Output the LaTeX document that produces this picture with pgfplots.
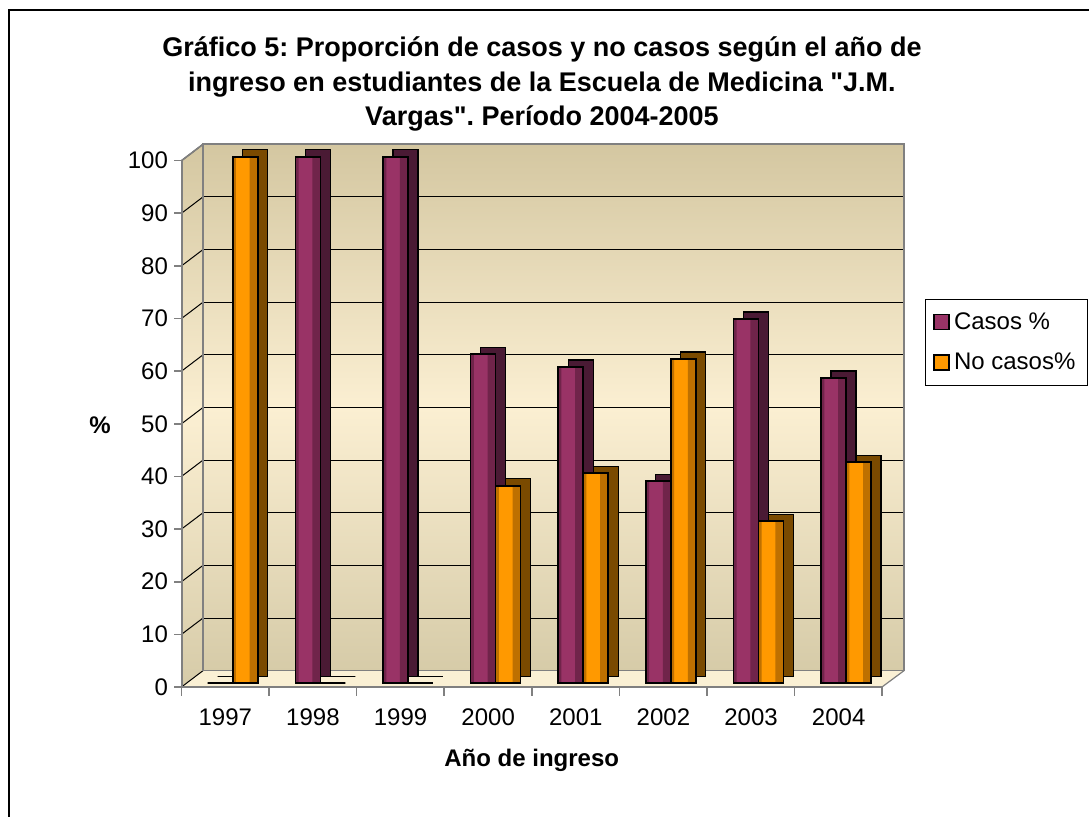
\documentclass[border=0pt]{standalone}
\usepackage{pgfplots}
\usepackage{pgfplotstable}
\pgfplotsset{compat=1.18}
\usepackage{fontspec}
\setmainfont{Liberation Sans}
\definecolor{casos}{RGB}{153,51,102}
\definecolor{casosD}{RGB}{112,36,74}
\definecolor{casosS}{RGB}{74,26,52}
\definecolor{nocasos}{RGB}{255,153,0}
\definecolor{nocasosD}{RGB}{190,112,0}
\definecolor{nocasosS}{RGB}{122,74,0}
\definecolor{wallTop}{RGB}{212,199,161}
\definecolor{wallMid}{RGB}{251,239,210}
\definecolor{wallBot}{RGB}{214,203,168}
\definecolor{floorC}{RGB}{250,240,212}
\definecolor{edge}{RGB}{128,128,128}

\pgfplotstableread{
x casos nocasos
0 0 100
1 100 0
2 100 0
3 62.5 37.5
4 60.1 39.9
5 38.4 61.6
6 69.2 30.8
7 58.0 42.0
}\datatable

\begin{document}
\frenchspacing
\begin{tikzpicture}[x=0.5pt,y=0.5pt]
\useasboundingbox (0,0) rectangle (1089,817);
% outer frame
\draw[black, line width=0.8pt] (9,0) -- (9,807) -- (1089,807);
% title
\node[font=\fontsize{13.5}{17.25}\selectfont\bfseries, align=center] at (542,733)
  {Gráfico 5: Proporción de casos y no casos según el año de\\
   ingreso en estudiantes de la Escuela de Medicina \textquotedbl J.M.\\
   Vargas\textquotedbl. Período 2004-2005};
% side wall
\shade[top color=wallTop, bottom color=wallBot, middle color=wallMid]
  (181.5,130) -- (181.5,656.3) -- (203,672.7) -- (203,146.3) -- cycle;
% floor
\fill[floorC] (181.5,130) -- (882,130) -- (904,146.3) -- (203,146.3) -- cycle;
\draw[edge, line width=0.6pt] (882,130) -- (904,146.3);
% side wall gridlines
\foreach \v in {0,10,...,100} {
  \draw[black, line width=0.5pt] (181.5,{130+5.2637*\v}) -- (203,{146.3+5.264*\v});
  \draw[edge, line width=0.8pt] (174,{130+5.2637*\v}) -- (181.5,{130+5.2637*\v});
}
\draw[edge, line width=0.8pt] (203,672.7) -- (181.5,656.3);
% front axis lines
\draw[edge, line width=1pt] (181.5,130) -- (181.5,656.3);
\draw[edge, line width=1pt] (181.5,130) -- (882,130);
\foreach \k in {0,...,8} {
  \draw[edge, line width=0.8pt] ({181.5+87.56*\k},130) -- ({181.5+87.56*\k},121);
}
\begin{axis}[
  at={(101.5pt,73.15pt)}, anchor=south west,
  scale only axis, width=350.5pt, height=263.2pt,
  xmin=-0.5, xmax=7.5, ymin=0, ymax=100,
  clip=false,
  axis background/.style={top color=wallTop, bottom color=wallBot, middle color=wallMid},
  axis line style={edge, line width=0.8pt},
  ytick={0,10,...,100},
  ymajorgrids, grid style={black, line width=0.5pt},
  xtick={0,...,7}, xticklabels={1997,1998,1999,2000,2001,2002,2003,2004},
  major tick length=0pt,
  tick label style={font=\fontsize{12}{14}\selectfont},
  yticklabel style={xshift=-14pt, yshift=-8.15pt},
  xticklabel style={xshift=-10.75pt, yshift=-15.5pt},
  /pgf/number format/assume math mode=true,
  xlabel={\bfseries Año de ingreso},
  ylabel={\bfseries \%},
  label style={font=\fontsize{12}{14}\selectfont},
  xlabel style={at={(axis description cs:0.469,-0.170)}, anchor=center},
  ylabel style={at={(axis description cs:-0.147,0.467)}, anchor=center, rotate=-90},
  legend style={at={(axis description cs:1.03,0.706)}, anchor=north west,
    draw=black, fill=white, font=\fontsize{12}{14}\selectfont,
    inner xsep=4pt, inner ysep=4.5pt, row sep=6.5pt,
    /tikz/every even column/.append style={column sep=7pt}},
  legend cell align=left,
  front/.style={ybar, bar width=12.5pt, xshift=-7.05pt, yshift=-6.3pt, draw=none, forget plot},
]
% ---- Casos ----
\addplot[ybar, bar width=12.5pt, bar shift=-6.25pt, xshift=-2.05pt, yshift=-2.8pt,
  fill=casosS, draw=black, line width=0.6pt, forget plot] table[x=x,y=casos]{\datatable};
\addplot[front, bar shift=-6.25pt, fill=casos] table[x=x,y=casos]{\datatable};
\addplot[front, bar width=1.6pt, bar shift=-11.65pt, fill=casosD] table[x=x,y=casos]{\datatable};
\addplot[front, bar width=4pt, bar shift=-2pt, fill=casosD] table[x=x,y=casos]{\datatable};
\addplot[ybar, bar width=12.5pt, bar shift=-6.25pt, xshift=-7.05pt, yshift=-6.3pt,
  fill=none, draw=black, line width=0.8pt,
  legend image code/.code={\draw[fill=casos, draw=black, line width=0.8pt] (0pt,2.75pt) rectangle (7.5pt,10.25pt);}]
  table[x=x,y=casos]{\datatable};
\addlegendentry{Casos \%}
% ---- No casos ----
\addplot[ybar, bar width=12.5pt, bar shift=6.25pt, xshift=-2.05pt, yshift=-2.8pt,
  fill=nocasosS, draw=black, line width=0.6pt, forget plot] table[x=x,y=nocasos]{\datatable};
\addplot[front, bar shift=6.25pt, fill=nocasos] table[x=x,y=nocasos]{\datatable};
\addplot[front, bar width=1.6pt, bar shift=0.8pt, fill=nocasosD] table[x=x,y=nocasos]{\datatable};
\addplot[front, bar width=4pt, bar shift=10.5pt, fill=nocasosD] table[x=x,y=nocasos]{\datatable};
\addplot[ybar, bar width=12.5pt, bar shift=6.25pt, xshift=-7.05pt, yshift=-6.3pt,
  fill=none, draw=black, line width=0.8pt,
  legend image code/.code={\draw[fill=nocasos, draw=black, line width=0.8pt] (0pt,2.75pt) rectangle (7.5pt,10.25pt);}]
  table[x=x,y=nocasos]{\datatable};
\addlegendentry{No casos\%}
\end{axis}
\end{tikzpicture}
\end{document}
